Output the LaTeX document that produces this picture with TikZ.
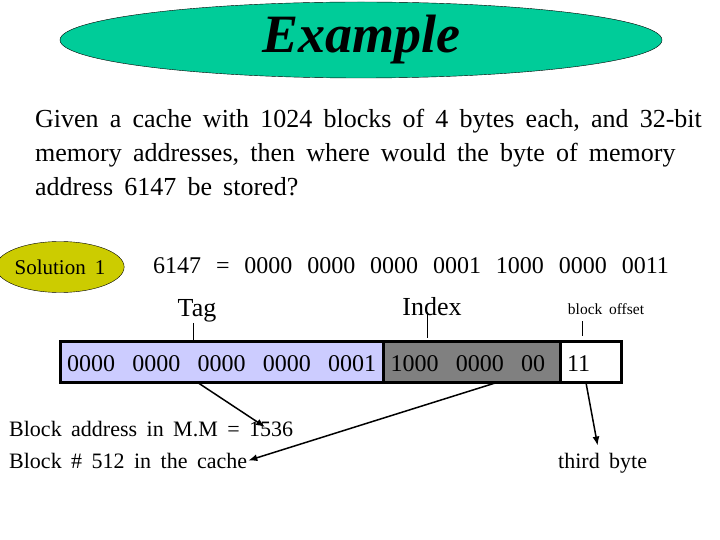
\documentclass[tikz,border=0pt]{standalone}
\usepackage{fontspec}
\setmainfont{Liberation Serif}
\usetikzlibrary{arrows.meta, positioning, shapes.geometric}
\definecolor{titlefill}{HTML}{00CC99}
\definecolor{solutionfill}{HTML}{CCCC00}
\definecolor{tagfill}{HTML}{CCCCFF}
\definecolor{indexfill}{HTML}{808080}
% slide text: wide word spaces as on the original slide
\newcommand{\slidefont}[2]{\fontsize{#1}{#2}\selectfont\spaceskip=0.43em\relax}
\newcommand{\bitfont}{\fontsize{24}{28}\selectfont}
\newcommand{\bits}[2][0.62em]{{\spaceskip=#1\relax #2}}

\begin{document}
\begin{tikzpicture}[
        x=1pt, y=-1pt,
        oval/.style={draw, ellipse, inner sep=0pt},
        segment/.style={
            draw,
            line width=1.5pt,
            minimum height=40pt,
            inner xsep=6pt,
            inner ysep=0pt,
            text height=18pt,
            text depth=0pt,
            align=left,
            font=\bitfont
        },
        fieldlabel/.style={inner sep=1pt},
        tickline/.style={line width=0.8pt},
        pointer/.style={-{Latex[length=9pt, width=7pt]}, line width=1.5pt}
    ]
        \useasboundingbox (0,0) rectangle (720,540);

        \node[oval, fill=titlefill, minimum width=602pt, minimum height=76pt,
              font=\fontsize{54}{60}\selectfont\bfseries\itshape] (title) at (361,40) {Example};

        \node[anchor=base west, align=left, inner sep=0pt, font=\slidefont{26}{34}] (question) at (35,196)
            {Given a cache with 1024 blocks of 4 bytes each, and 32-bit\\
             memory addresses, then where would the byte of memory\\
             address 6147 be stored?};

        \node[oval, fill=solutionfill, minimum width=120pt, minimum height=51pt,
              font=\slidefont{21}{24}] (solution) at (60,267) {Solution 1};

        \node[anchor=base west, inner sep=0pt, font=\bitfont] (binary) at (153,273)
            {\bits{6147 = 0000 0000 0000 0001 1000 0000 0011}};

        \node[fieldlabel, anchor=base, font=\slidefont{26}{30}] (tag) at (197,316) {Tag};
        \node[fieldlabel, anchor=base, font=\slidefont{26}{30}] (index) at (432,315) {Index};
        \node[fieldlabel, anchor=base, font=\slidefont{15.5}{18}] (offset) at (606,314) {block offset};

        % the address split in three fields
        \node[segment, fill=tagfill, text width=310pt] (tagpart) at (222,362) {\bits[0.72em]{0000 0000 0000 0000 0001}};
        \node[segment, fill=indexfill, text width=163pt, right=0pt of tagpart] (indexpart) {\bits[0.72em]{1000 0000 00}};
        \node[segment, fill=white, text width=48pt, right=0pt of indexpart] (offsetpart) {11};
        \draw[line width=3pt] (tagpart.north west) rectangle (offsetpart.south east);

        \draw[tickline] ([xshift=-4pt]tag.south) -- ([xshift=-4pt]tag.south |- tagpart.north);
        \draw[tickline] ([xshift=-5pt, yshift=3pt]index.base) -- ([xshift=-5pt, yshift=3pt]index.base |- indexpart.north);
        \draw[tickline] ([xshift=-24pt, yshift=-6pt]offset.south) -- ([xshift=-24pt, yshift=5pt]offset.south |- offsetpart.north);

        \node[fieldlabel, anchor=base west, font=\slidefont{22}{24}] (blockaddress) at (8,436) {Block address in M.M = 1536};
        \node[fieldlabel, anchor=base west, font=\slidefont{22}{24}] (cacheblock) at (8,468) {Block \# 512 in the cache};
        \node[fieldlabel, anchor=base west, font=\slidefont{22}{24}] (thirdbyte) at (557,468) {third byte};
        \coordinate (mmtip) at (265,427);

        \draw[pointer] ([xshift=-24pt]tagpart.south) -- (mmtip);
        \draw[pointer] ([xshift=24pt]indexpart.south) -- (cacheblock.east);
        \draw[pointer] ([xshift=-5pt]offsetpart.south) -- ([xshift=-5pt, yshift=6pt]thirdbyte.north);
    \end{tikzpicture}
\end{document}
